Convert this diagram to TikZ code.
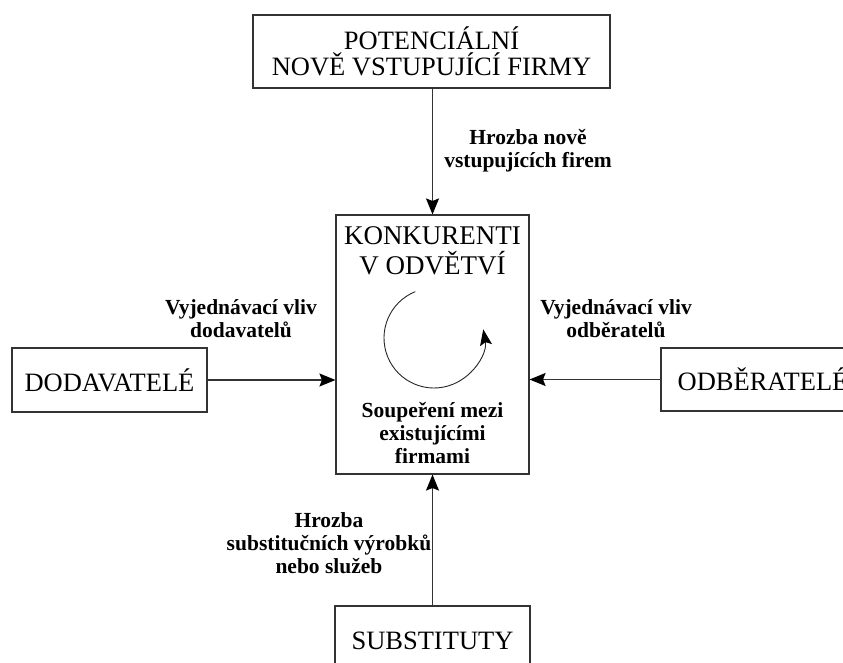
\documentclass[tikz,border=0pt]{standalone}
\usepackage{fontspec}
\setmainfont{Liberation Serif}
\usetikzlibrary{arrows.meta}
\begin{document}
\begin{tikzpicture}[x=1pt,y=-1pt,
  box/.style={draw=black!80, line width=1.1pt, inner sep=0pt, align=center, font=\fontsize{26.5}{25.5}\selectfont},
  big/.style={align=center, inner sep=0pt, font=\fontsize{27}{30}\selectfont},
  lbl/.style={align=center, inner sep=0pt, font=\bfseries\fontsize{21.5}{23}\selectfont},
  arr/.style={draw=black!80, line width=1.1pt, -{Stealth[length=16pt,width=13pt,inset=2.5pt,color=black,fill=black]}}]
\useasboundingbox (0,0) rectangle (843,663);
\clip (0,0) rectangle (843,663);
\node[box, minimum width=357pt, minimum height=73pt] (top) at (431.5,51.5) {POTENCIÁLNÍ\\NOVĚ VSTUPUJÍCÍ FIRMY};
\node[box, minimum width=193pt, minimum height=259pt] (kon) at (432.5,344.5) {};
\node[box, minimum width=195pt, minimum height=64pt] (dod) at (109.5,380) {DODAVATELÉ};
\node[box, minimum width=204pt, minimum height=63pt] (odb) at (763,379.5) {ODBĚRATELÉ};
\node[box, minimum width=195pt, minimum height=70pt] (sub) at (432.5,641) {SUBSTITUTY};
\node[big] (kontxt) at (432.5,251) {KONKURENTI\\V ODVĚTVÍ};
\node[lbl] (soup) at (432.5,433) {Soupeření mezi\\existujícími\\firmami};
\node[lbl] (l1) at (528,151) {Hrozba nově\\vstupujících firem};
\node[lbl] (l2) at (241,319) {Vyjednávací vliv\\dodavatelů};
\node[lbl] (l3) at (616,319) {Vyjednávací vliv\\odběratelů};
\node[lbl] (l4) at (329,543) {Hrozba\\substitučních výrobků\\nebo služeb};
\draw[arr] (top.south -| kon.north) -- (kon.north);
\draw[arr] (dod.east) -- (dod.east -| kon.west);
\draw[arr] (odb.west) -- (odb.west -| kon.east);
\draw[arr] (sub.north) -- (kon.south);
\coordinate (cc) at (434,338);
\draw[draw=black!85, line width=0.9pt, -{Stealth[length=16pt,width=12pt,inset=3pt,color=black,fill=black]}] ([shift={(248:50)}]cc) arc[start angle=248, end angle=-10, radius=50];
\end{tikzpicture}
\end{document}
